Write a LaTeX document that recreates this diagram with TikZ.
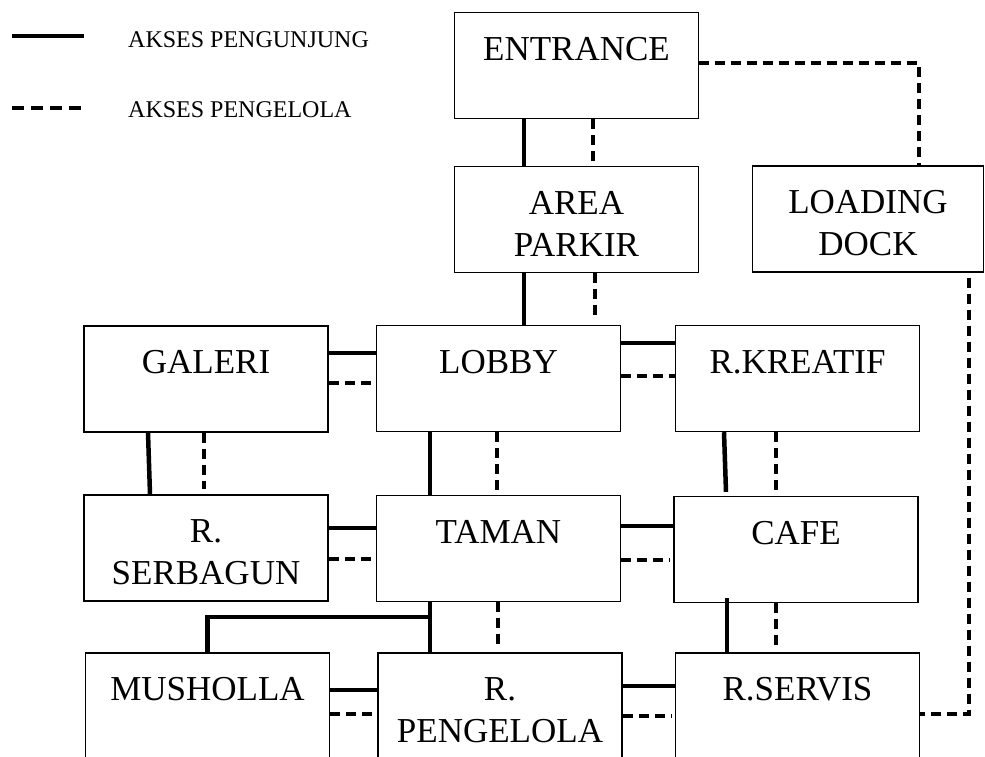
\documentclass[tikz,border=0pt]{standalone}
\usepackage{fontspec}
\setmainfont{Liberation Serif}
\begin{document}
\begin{tikzpicture}[x=1pt,y=-1pt,
  room/.style={draw=black, line width=1.4pt, fill=white, inner sep=0pt,
    minimum width=244pt, minimum height=106pt, align=center,
    font=\fontsize{35}{42}\selectfont, text height=73pt, text depth=0pt},
  solidlink/.style={line width=4.5pt},
  dashlink/.style={line width=4.5pt, dash pattern=on 10pt off 6pt},
  legendtext/.style={anchor=west, inner sep=0pt, font=\fontsize{24}{28}\selectfont}]
\useasboundingbox (0,0) rectangle (985,756);
\clip (0,0) rectangle (985,756);

% legend
\coordinate (ls1) at (12,36);
\coordinate (le1) at (84,36);
\coordinate (ls2) at (12,108);
\coordinate (le2) at (84,108);
\draw[solidlink] (ls1) -- (le1);
\draw[line width=4.5pt, dash pattern=on 12pt off 7pt] (ls2) -- (le2);
\node[legendtext] (lt1) at (128,40) {AKSES PENGUNJUNG};
\node[legendtext] (lt2) at (128,110) {AKSES PENGELOLA};

% rooms
\node[room] (ent) at (576.5,65.5) {ENTRANCE\\\mbox{}};
\node[room] (park) at (576.5,219.5) {AREA\\PARKIR};
\node[room, minimum width=231pt] (ld) at (868,219) {LOADING\\DOCK};
\node[room] (gal) at (206,379) {GALERI\\\mbox{}};
\node[room] (lob) at (498.5,378.5) {LOBBY\\\mbox{}};
\node[room] (kre) at (797.5,378.5) {R.KREATIF\\\mbox{}};
\node[room] (ser) at (206,548) {R.\\SERBAGUN};
\node[room] (tam) at (498.5,548.5) {TAMAN\\\mbox{}};
\node[room] (caf) at (796,549.5) {CAFE\\\mbox{}};
\node[room] (mus) at (207.5,706) {MUSHOLLA\\\mbox{}};
\node[room] (pen) at (500,706) {R.\\PENGELOLA};
\node[room] (srv) at (797.5,706) {R.SERVIS\\\mbox{}};

% entrance - parkir
\draw[solidlink] ([xshift=-52.5pt]ent.south) -- ([xshift=-52.5pt]park.north);
\draw[dashlink] ([xshift=16.5pt]ent.south) -- ([xshift=16.5pt]park.north);
% entrance - loading dock
\draw[dashlink] ([yshift=2.5pt]ent.east) -| ([xshift=51pt]ld.north);
% parkir - lobby
\draw[solidlink] ([xshift=-52.5pt]park.south) -- ([xshift=25.5pt]lob.north);
\draw[dashlink] ([xshift=18.5pt]park.south) -- ([xshift=96.5pt,yshift=7pt]lob.north);
% loading dock - servis
\draw[dashlink] ([xshift=101pt,yshift=-5pt]ld.south) |- ([yshift=-8pt]srv.east);
% galeri - lobby
\draw[solidlink] ([yshift=26pt]gal.east) -- ([yshift=25.5pt]lob.west);
\draw[dashlink] ([yshift=-4pt]gal.east) -- ([yshift=-4.5pt]lob.west);
% lobby - kreatif
\draw[solidlink] ([yshift=35.5pt]lob.east) -- ([yshift=35.5pt]kre.west);
\draw[dashlink] ([yshift=2.5pt]lob.east) -- ([yshift=2.5pt]kre.west);
% galeri - serbagun
\draw[solidlink] ([xshift=-58pt]gal.south) -- ([xshift=-56pt]ser.north);
\draw[dashlink] ([xshift=-2pt]gal.south) -- ([xshift=-2pt,yshift=5pt]ser.north);
% lobby - taman
\draw[solidlink] ([xshift=-68.5pt]lob.south) -- ([xshift=-68.5pt]tam.north);
\draw[dashlink] ([xshift=-1.5pt]lob.south) -- ([xshift=-1.5pt,yshift=4pt]tam.north);
% kreatif - cafe
\draw[solidlink] ([xshift=-73.5pt]kre.south) -- ([xshift=-70pt,yshift=4pt]caf.north);
\draw[dashlink] ([xshift=-21.5pt]kre.south) -- ([xshift=-20pt,yshift=4pt]caf.north);
% serbagun - taman
\draw[solidlink] ([yshift=20pt]ser.east) -- ([yshift=20.5pt]tam.west);
\draw[dashlink] ([yshift=-11pt]ser.east) -- ([yshift=-10.5pt]tam.west);
% taman - cafe
\draw[solidlink] ([yshift=22.5pt]tam.east) -- ([yshift=23.5pt]caf.west);
\draw[dashlink] ([yshift=-11.5pt]tam.east) -- ([yshift=-10.5pt,xshift=-3pt]caf.west);
% taman - pengelola, taman - musholla
\draw[solidlink] ([xshift=-68.5pt]tam.south) -- ([xshift=-70pt]pen.north);
\coordinate (junc) at ([xshift=-69pt,yshift=-15pt]tam.south);
\draw[solidlink] (junc) -| (mus.north);
\draw[dashlink] ([xshift=-0.5pt]tam.south) -- ([xshift=-2pt,yshift=5pt]pen.north);
% cafe - servis
\draw[solidlink] ([xshift=-69pt,yshift=5pt]caf.south) -- ([xshift=-70.5pt]srv.north);
\draw[dashlink] ([xshift=-20pt]caf.south) -- ([xshift=-21.5pt,yshift=5pt]srv.north);
% musholla - pengelola
\draw[solidlink] ([yshift=16pt]mus.east) -- ([yshift=16pt]pen.west);
\draw[dashlink] ([yshift=-8pt]mus.east) -- ([yshift=-8pt]pen.west);
% pengelola - servis
\draw[solidlink] ([yshift=20pt]pen.east) -- ([yshift=20pt]srv.west);
\draw[dashlink] ([yshift=-10pt]pen.east) -- ([yshift=-10pt,xshift=-3pt]srv.west);
\end{tikzpicture}
\end{document}
